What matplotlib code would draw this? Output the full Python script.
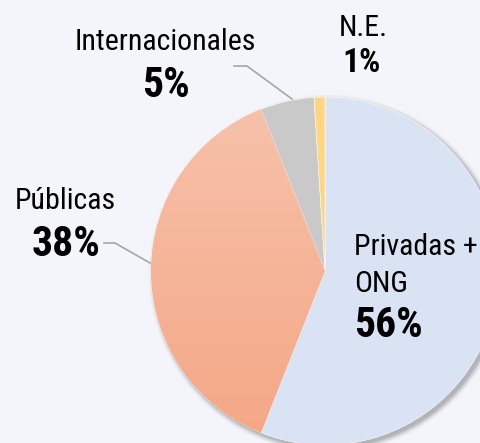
import numpy as np
import matplotlib
matplotlib.use("Agg")
import matplotlib.pyplot as plt
from matplotlib import font_manager
from matplotlib.patches import Circle
from matplotlib.colors import LinearSegmentedColormap

labels = ["Privadas +", "ONG", "Públicas", "Internacionales", "N.E."]
values = [56, 38, 5, 1]
pct_labels = ["56%", "38%", "5%", "1%"]
colors = ["#DAE3F3", "#F5B59A", "#C9C9C9", "#FFD580"]

names = {f.name for f in font_manager.fontManager.ttflist}
FONT = "Liberation Sans"
for cand in ["Liberation Sans Narrow", "Arial Narrow", "Roboto Condensed"]:
    if cand in names:
        FONT = cand
        break

BG = "#F3F5FA"
W, H = 481, 443
fig = plt.figure(figsize=(W / 100, H / 100), dpi=100, facecolor=BG)
ax = fig.add_axes([0, 0, 1, 1])

cx, cy, R = 325, 271, 174

# soft shadow
for i, a in enumerate(np.linspace(0.06, 0.01, 8)):
    ax.add_patch(Circle((cx + 3, cy + 3), R + i * 0.8, facecolor="#000000",
                        alpha=a, edgecolor="none", zorder=1))

# y axis is inverted, so start at -90 and go counterclockwise in data space
wedges, _ = ax.pie(values, colors=colors, startangle=-90, counterclock=True,
                   center=(cx, cy), radius=R, frame=True,
                   wedgeprops=dict(edgecolor="white", linewidth=0.4))
for w in wedges:
    w.set_zorder(2)
ax.set_xlim(0, W)
ax.set_ylim(H, 0)
ax.set_aspect("equal")
ax.axis("off")

# gradient on Públicas wedge
grad = np.linspace(0, 1, 256).reshape(-1, 1)
cmap = LinearSegmentedColormap.from_list("g", ["#F7C2AB", "#F4A785"])
im = ax.imshow(grad, cmap=cmap, extent=(cx - R, cx + R, cy + R, cy - R),
               aspect="auto", zorder=3)
im.set_clip_path(wedges[1])
ax.set_xlim(0, W)
ax.set_ylim(H, 0)

txt = dict(family=FONT, color="black", zorder=5, va="baseline")
NS, BS = 21.5, 30
# Internacionales
ax.text(165, 50, labels[3], fontsize=NS, ha="center", **txt)
ax.text(166, 97, pct_labels[2], fontsize=BS, weight="bold", ha="center", **txt)
ax.plot([234, 247, 292], [66, 66, 99], color="#A6A6A6", lw=1.2, zorder=4)
# N.E.
ax.text(363, 36, labels[4], fontsize=NS, ha="center", **txt)
ax.text(362, 72, pct_labels[3], fontsize=24, weight="bold", ha="center", **txt)
# Públicas
ax.text(65, 209, labels[2], fontsize=NS, ha="center", **txt)
ax.text(66, 256, pct_labels[1], fontsize=BS, weight="bold", ha="center", **txt)
ax.plot([104, 115, 150], [243, 243, 263], color="#A6A6A6", lw=1.2, zorder=4)
# Privadas + ONG
ax.text(354, 255, labels[0], fontsize=NS, ha="left", **txt)
ax.text(354, 292, labels[1], fontsize=NS, ha="left", **txt)
ax.text(354, 337, pct_labels[0], fontsize=BS, weight="bold", ha="left", **txt)

fig.savefig("out.png", dpi=100, facecolor=BG)
